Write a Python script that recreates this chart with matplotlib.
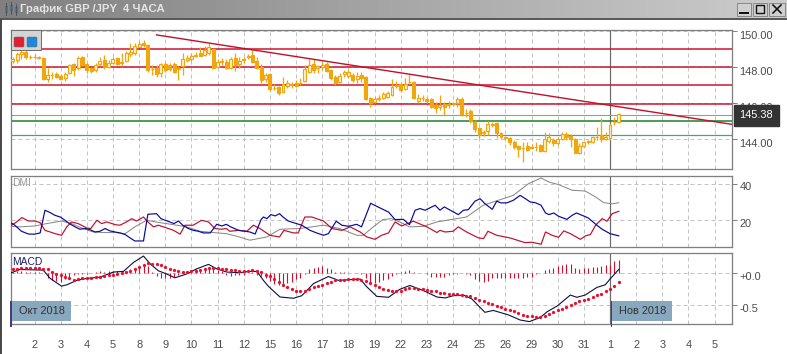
import numpy as np
import matplotlib
matplotlib.use("Agg")
import matplotlib.pyplot as plt
from matplotlib.patches import Rectangle, FancyBboxPatch

plt.rcParams["font.family"] = ["Liberation Sans", "DejaVu Sans"]

W, H = 787, 354

# 4h candles, oct 2018 - 1 nov 2018
opens = [148.35,148.39,148.72,148.85,148.54,148.57,148.57,148.52,147.31,147.54,147.61,147.50,147.39,147.65,148.15,147.93,148.54,148.15,147.93,147.83,
148.17,148.39,148.02,148.24,148.48,148.24,148.33,148.72,148.76,149.13,149.31,149.22,147.89,147.93,147.69,148.17,148.11,148.17,147.93,148.06,
148.39,148.43,148.63,148.80,148.67,148.80,148.98,148.02,148.30,148.30,147.93,148.48,148.17,148.39,148.54,148.67,148.35,148.02,147.31,147.61,
146.85,146.87,146.63,146.94,147.00,147.09,147.09,147.22,147.74,148.15,147.93,148.02,148.17,147.83,147.43,147.15,147.61,147.52,147.56,147.31,
147.56,147.46,146.26,146.07,146.22,146.30,146.35,146.44,146.96,147.04,146.78,147.15,147.19,146.11,146.26,146.22,146.20,145.89,145.80,145.93,
145.91,145.94,145.98,146.22,145.43,145.57,144.96,144.59,144.31,144.46,144.80,144.87,144.35,144.09,144.06,143.81,143.61,143.52,143.61,143.52,
143.54,143.67,143.35,143.91,143.94,143.76,143.98,144.28,144.19,144.00,143.24,143.63,143.85,143.85,144.09,144.22,144.02,144.04,144.93,144.96]
highs = [148.57,148.85,148.98,148.98,148.67,148.70,148.61,148.54,147.93,147.74,147.74,147.61,147.74,148.17,148.20,148.61,148.61,148.20,148.02,148.20,
148.54,148.67,148.39,148.57,148.57,148.76,148.91,149.31,149.31,149.46,149.50,149.26,148.11,148.11,148.24,148.30,148.24,148.30,148.06,148.76,
148.67,148.76,148.85,149.13,149.17,149.31,149.04,148.43,148.48,148.43,148.54,148.76,148.57,148.57,148.72,148.98,148.57,148.17,147.69,147.65,
147.06,146.94,147.43,147.28,147.19,147.28,147.37,148.11,148.43,148.43,148.11,148.30,148.30,147.87,147.56,147.65,147.83,147.83,147.65,147.74,
147.74,147.50,146.31,146.31,146.44,146.63,146.69,147.31,147.22,147.13,147.37,147.56,147.22,146.50,146.44,146.35,146.26,146.07,146.44,146.07,
146.11,146.07,146.31,146.31,145.65,145.65,145.06,144.65,144.50,145.02,144.96,144.96,144.41,144.17,144.13,143.94,143.67,143.81,143.81,143.72,
143.81,143.70,144.41,144.31,144.04,144.09,144.37,144.37,144.26,144.07,143.76,143.85,143.94,144.17,144.69,145.15,144.41,144.87,145.24,145.42]
lows = [148.20,148.24,148.43,148.43,148.43,148.43,148.44,147.28,147.19,147.31,147.37,147.28,147.24,147.61,147.50,147.83,148.06,147.69,147.69,147.74,
148.06,147.87,147.93,148.17,148.11,148.06,148.28,148.57,148.67,149.09,149.13,147.74,147.56,147.46,147.46,147.74,147.80,147.65,147.28,147.56,
148.30,148.35,148.54,148.61,148.61,148.67,147.87,147.93,148.11,147.87,147.87,147.80,147.93,148.20,148.43,148.24,147.87,147.13,147.19,146.69,
146.72,146.44,146.54,146.81,146.85,146.91,147.00,147.15,147.69,147.65,147.69,147.83,147.74,147.28,147.00,147.09,147.46,147.37,147.19,147.09,
147.19,146.17,145.80,145.98,146.13,146.22,146.26,146.39,146.81,146.63,146.72,147.09,146.20,146.02,146.13,146.02,145.70,145.46,145.61,145.33,
145.70,145.83,145.76,145.28,145.20,144.91,144.41,144.04,144.17,144.22,144.69,144.07,144.02,143.98,143.67,143.43,143.02,142.74,143.33,143.43,
143.33,143.30,143.30,143.76,143.61,143.67,143.94,143.94,143.57,143.20,143.17,143.54,143.72,143.76,143.94,143.85,143.94,143.94,144.78,144.91]
closes = [148.43,148.72,148.85,148.54,148.57,148.54,148.48,147.31,147.56,147.57,147.46,147.33,147.61,148.09,147.83,148.48,148.11,147.83,147.80,148.11,
148.33,147.98,148.20,148.44,148.17,148.28,148.76,148.85,149.17,149.28,149.22,147.83,147.87,147.61,148.17,147.83,147.87,147.74,147.87,148.43,
148.52,148.61,148.67,148.63,148.94,149.09,147.93,148.26,148.33,147.93,148.43,148.11,148.33,148.43,148.61,148.30,147.93,147.28,147.56,146.76,
146.81,146.54,147.06,147.09,147.02,146.96,147.13,147.89,148.11,147.83,148.06,148.11,147.80,147.37,147.13,147.50,147.70,147.74,147.28,147.50,
147.37,146.22,146.02,146.22,146.26,146.50,146.57,146.87,147.00,146.72,147.06,147.19,146.26,146.30,146.30,146.13,145.80,145.70,145.89,145.80,
145.94,145.98,146.20,145.37,145.46,145.00,144.56,144.22,144.37,144.81,144.83,144.35,144.09,144.04,143.81,143.57,143.44,143.48,143.39,143.57,
143.57,143.35,143.98,144.09,143.76,143.98,144.26,144.13,143.98,143.24,143.61,143.81,143.89,144.09,144.13,143.98,144.13,144.78,144.96,145.38]

level_red = [149.0, 148.0, 147.0, 145.93]
level_gray = 145.31
level_green = 144.98
level_teal = 144.2
trend_x = [33, 165]
trend_y = [149.78, 144.81]

plus_x = [-1,0.5,2,3.6,5,6.3,7.4,8.6,9.7,10.9,12,13,14.3,15.4,16.6,17.7,18.9,20,21.2,22.3,23.5,24.6,25.8,26.9,28,30,31,33,34,35,37,38,39,40.3,41.4,42.6,43.7,45.3,46.8,48,49,50,51.8,53.3,54.4,55.6,57,57.5,58.3,59.2,60.2,61.2,62,63.2,64.4,66.3,68.2,69.7,71.3,72.4,74.2,75.5,77,78.9,80,82.1,83.5,86.2,87.7,89.6,91,92.3,93.4,94.6,96.9,98,99,102.2,103.4,104.5,106,107.2,108.3,110,111,112,113.3,114.8,116.4,117.6,118.7,119.9,121.2,122.2,123,124.1,125.2,127.1,128.3,129.3,130.6,132,134,135.2,137,139]
plus_di = [19.5,17.3,14,12.5,12.4,13.1,25.5,24.2,22.7,21.8,20,18.2,16.4,15.1,15.5,14.9,13.6,14,15.5,14.2,13.6,13.1,12.2,10.4,8.7,8.7,23.3,23.6,20.9,20,18.2,19.6,17.3,15.5,14.5,14,13.1,13.1,17.8,16.9,17.8,16.4,14.5,14,13.6,12.5,20.5,21.8,20.9,23.1,22.4,23.6,21.8,19.6,18.7,17.3,14.5,13.1,11.8,12.7,19.5,17.3,16.7,17.8,16.4,29.3,27.6,24.5,20.4,20.5,17.6,25.5,26.4,25.5,28.2,25.5,27.3,23.1,25.5,25.8,30.4,31.8,29.1,26,30.4,29.5,29.5,30.9,33.6,31.8,30,29.6,28.2,24,23.1,24,22.2,20.5,22.7,24,22.7,21.3,17.3,15.1,12.7,11.5]
minus_x = [-0.5,0.9,2.1,3.6,5.1,6.3,7.4,8.6,9.7,11.2,12.4,13.5,15,17,17.9,19.3,20.4,21.6,23.5,24.6,26.1,27.3,28.4,30,31,32.3,33.4,35.3,36.9,38.4,39.5,41.4,43.3,44.9,46.4,47.9,49,49.8,51.8,53.7,55.2,56.7,59,61.2,62.2,64.4,65.5,67,68.6,71.3,73.2,75.5,77.4,79.7,81.2,83.1,84.6,86.2,87.7,89.2,91.9,95,97.3,98,99.2,101,102.2,104.1,106.8,108,109,111,114,117.5,119.1,121.2,122.2,123.7,125.2,126.4,127.9,130.2,131.4,132.5,133.7,135.2,136.3,137.5,139]
minus_di = [16.9,19.1,21.5,19.6,19.6,18.7,14.5,13.6,12.7,11.8,16.4,19.1,18.2,15.8,15.5,20,18.2,19.1,17.6,17.3,19.1,20.9,19.6,21.8,19.1,16.4,17.3,15.8,14.5,12.4,17.3,17.3,20,19.1,15.5,15.1,15.5,14,14.5,14,17.3,15.5,11.8,10.9,14.5,13.1,13.1,21.8,21.8,19.6,15.5,14.5,16.4,13.6,10.9,9.6,11.8,13.1,19.1,16.9,19.5,16.4,13.3,14.5,13.6,14,16.4,13.6,10.4,10,14,11.8,10.4,7.8,8,6.9,13.6,11.8,10.7,14.2,12.7,9.6,11.5,12.2,17.3,20.9,19.5,23.6,24.9]
adx_x = [-0.5,1.7,5.1,7.8,11.2,13.5,15.8,18.5,20.8,23.5,25.8,28,30.7,33.8,36.9,39.9,43,46,49,52,54.4,56.3,58.3,61.3,65.9,71.3,75,78.9,80.4,82.7,84.9,86.9,89.6,91,94.2,97.3,101.8,104.1,107.9,114.8,118.3,121.2,123,125.2,128.3,131.3,133.7,135.6,137.5,139]
adx = [16.7,16.4,16.9,18.2,19.6,18.2,15.8,13.6,13.3,13.3,12.7,16.4,20,18.7,17.6,16.4,14,13.3,12.7,10.9,9.1,10,10.9,15.1,15.5,17.3,15.5,11.8,11.8,16.4,20.4,20.9,18.2,16.4,16.7,19.1,20.9,21.8,28.2,33.6,40,43.1,40.9,39.5,36.4,36,32.7,29.6,29,29.6]

macd_x = [-0.5,0.5,1.7,7,8.6,11.2,12.4,14.7,17,20,23.1,25.4,27.7,30,31.5,33.4,35.3,37.2,39.9,42.2,44.9,46.8,49.1,52.1,54.1,56,57.5,58.6,61.3,64.4,66.3,69,72.4,74.7,79.7,81.2,83.5,86.2,88.8,91.1,94.2,97.3,99.2,101,103.4,105.3,108.3,110.2,113.7,116.4,118.5,121,122.6,124.9,127.9,129.4,131.3,134,135.9,137,139]
macd = [.005,.03,.06,.05,-.08,-.20,-.18,-.11,-.08,-.06,.02,.03,.17,.27,.15,.04,-.01,-.07,-.01,.07,.14,.07,.02,.01,.03,.03,-.11,-.20,-.37,-.39,-.35,-.16,-.05,-.11,-.09,-.21,-.36,-.375,-.25,-.19,-.27,-.37,-.385,-.35,-.34,-.40,-.61,-.58,-.65,-.73,-.755,-.69,-.60,-.51,-.34,-.375,-.34,-.22,-.18,-.09,.06]
signal = [.06,.07,.08,.08,.08,.08,.08,.07,.06,.02,-.01,-.03,-.06,-.07,-.10,-.09,-.08,-.08,-.07,-.06,-.05,-.04,-.03,-.02,-.01,.01,.02,.04,.06,.10,
.13,.16,.15,.14,.13,.10,.07,.05,.03,.02,.02,.03,.04,.05,.07,.08,.09,.08,.07,.06,.05,.05,.04,.04,.04,.05,.04,.02,-.02,-.04,
-.09,-.14,-.18,-.22,-.25,-.28,-.28,-.28,-.25,-.22,-.20,-.18,-.15,-.13,-.11,-.11,-.10,-.09,-.09,-.09,-.10,-.12,-.15,-.19,-.22,-.24,-.26,-.28,-.28,-.27,
-.25,-.23,-.23,-.24,-.24,-.26,-.27,-.28,-.30,-.31,-.32,-.33,-.33,-.34,-.35,-.36,-.39,-.41,-.44,-.46,-.48,-.51,-.53,-.55,-.57,-.59,-.62,-.65,-.66,-.67,
-.68,-.68,-.66,-.64,-.61,-.58,-.55,-.52,-.49,-.46,-.44,-.42,-.40,-.37,-.34,-.32,-.28,-.24,-.20,-.13]
hist = [.02,.03,.03,.02,.02,.02,.02,0,-.08,-.11,-.125,-.135,-.09,-.09,-.02,-.01,-.005,-.005,.005,.02,.03,.02,.03,.04,.04,.03,.04,.06,.08,.11,
.15,.11,.02,-.04,-.07,-.07,-.07,-.06,-.02,.02,.03,.05,.06,.07,.07,.08,.07,.05,.04,-.03,-.04,-.03,-.03,-.02,.01,.02,-.02,-.04,-.07,-.125,
-.16,-.19,-.20,-.15,-.135,-.09,-.07,-.005,.06,.08,.10,.11,.09,.07,.02,.015,.015,.01,.005,.005,-.01,-.08,-.135,-.15,-.135,-.11,-.09,-.04,-.005,.015,
.03,.05,.02,.005,0,-.01,-.05,-.06,-.06,-.05,-.03,-.01,-.01,0,-.01,-.03,-.09,-.125,-.135,-.125,-.08,-.07,-.07,-.07,-.08,-.08,-.08,-.07,-.06,-.06,
-.005,.005,.05,.06,.08,.11,.125,.14,.14,.08,.07,.08,.08,.10,.10,.115,.125,.125,.19,.21]

# day labels every 6 candles, starts at candle 5
day_labels = ["2","3","4","5","8","9","10","11","12","15","16","17","18","19","22","23","24","25","26","29","30","31","1","2","3","4","5"]
day_ticks = [5 + 6 * i for i in range(len(day_labels))]
nov_first = 137

ORANGE = "#f2a60e"
RED = "#d0102a"
GRID = "#c4c4c4"
SPINE = "#808080"
TXT = "#4a4a4a"
px = 0.72  # 1 pixel in points at dpi 100

fig = plt.figure(figsize=(W / 100, H / 100), dpi=100, facecolor="white")


def panel(top, bottom, ylim, yticks):
    a = fig.add_axes([10.7 / W, 1 - bottom / H, (732.3 - 10.7) / W, (bottom - top) / H])
    a.set_xlim(-0.46, 165.05)
    a.set_ylim(*ylim)
    a.set_xticks(day_ticks)
    a.set_yticks(yticks)
    a.tick_params(labelleft=False, labelbottom=False, left=False, right=True, bottom=False,
                  color=SPINE, length=5 * px, width=px)
    a.grid(True, color=GRID, ls=(0, (4, 3)), lw=px)
    a.set_axisbelow(True)
    for s in a.spines.values():
        s.set_color(SPINE)
        s.set_linewidth(1.3 * px)
    a.axvline(nov_first, color="#6a6a6a", lw=1.2 * px, zorder=1.5)
    return a


def right_labels(a, ticks, labels, dy=-3.5, dx=7):
    for v, t in zip(ticks, labels):
        a.annotate(t, xy=(1, v), xycoords=a.get_yaxis_transform(), xytext=(dx * px, dy * px),
                   textcoords="offset points", va="center", ha="left", fontsize=7.9, color=TXT,
                   annotation_clip=False)


# --- price panel
ax = panel(29.5, 169, (142.33, 150.08), [144, 146, 148, 150])
idx = np.arange(len(opens))
ax.vlines(idx, lows, highs, color=ORANGE, lw=1.3 * px, zorder=3)
for i in idx:
    up = closes[i] >= opens[i]
    lo, hi = min(opens[i], closes[i]), max(opens[i], closes[i])
    ax.bar(i, max(hi - lo, 0.03), bottom=lo, width=0.68, color="#fdf0d0" if up else ORANGE,
           edgecolor=ORANGE, linewidth=1.1 * px, zorder=4)
for lv in level_red:
    ax.axhline(lv, color=RED, lw=1.5 * px, zorder=2)
ax.axhline(level_gray, color="#9a9a9a", lw=1.1 * px, zorder=2)
ax.axhline(level_green, color="#17801f", lw=1.5 * px, zorder=2)
ax.axhline(level_teal, color="#35a888", lw=1.2 * px, zorder=2)
ax.plot(trend_x, trend_y, color="#c0102c", lw=1.4 * px, zorder=5)
right_labels(ax, [150, 148, 146, 144], ["150.00", "148.00", "146.00", "144.00"], dy=-5.2)
ax.annotate(f"{closes[-1]:.2f}", xy=(1, level_gray), xycoords=ax.get_yaxis_transform(), xytext=(24 * px, 0),
            textcoords="offset points", ha="center", va="center", fontsize=7.9, color="white", zorder=20,
            annotation_clip=False,
            bbox=dict(boxstyle="square,pad=0.5", fc="#333333", ec="#333333"))

# --- DMI panel
ax2 = panel(176, 247, (5.4, 44.2), [20, 40])
ax2.plot(adx_x, adx, color="#858585", lw=1.0 * px, zorder=3)
ax2.plot(minus_x, minus_di, color="#c0102c", lw=1.2 * px, zorder=4)
ax2.plot(plus_x, plus_di, color="#0a0a9c", lw=1.2 * px, zorder=5)
right_labels(ax2, [40, 20], ["40", "20"])
ax2.text(0.002, 0.90, "DMI", transform=ax2.transAxes, color="#9a9a9a", fontsize=7.4, va="center", ha="left")

# --- MACD panel
ax3 = panel(253.3, 324.3, (-0.797, 0.313), [-0.5, 0.0])
ax3.vlines(idx, 0, hist, color=RED, lw=1.1 * px, zorder=3)
ax3.plot(macd_x, macd, color="#0c0c40", lw=1.1 * px, zorder=4)
ax3.scatter(idx, signal, s=5.5, color="#e8102e", linewidths=0, zorder=5)
right_labels(ax3, [0.0, -0.5], ["+0.0", "-0.5"])
ax3.text(0.002, 0.88, "MACD", transform=ax3.transAxes, color="#20206a", fontsize=7.4, va="center", ha="left")
ax3.set_xticks(day_ticks)
ax3.tick_params(axis="x", labelbottom=True, pad=11.5, length=0, labelsize=7.9, labelcolor=TXT)
ax3.set_xticklabels(day_labels)

# --- window chrome, drawn in pixel coordinates
back = fig.add_axes([0, 0, 1, 1], zorder=10)
back.set_xlim(0, W)
back.set_ylim(H, 0)
back.axis("off")
back.patch.set_alpha(0)
grad = np.linspace(0.50, 0.80, 256).reshape(1, -1)
back.imshow(grad, extent=[0, W, 18, 0], cmap="gray", vmin=0, vmax=1, aspect="auto")
back.set_xlim(0, W)
back.set_ylim(H, 0)
back.add_patch(Rectangle((0, 18), W, 1.5, fc="#5a5a5a", ec="none"))
back.add_patch(Rectangle((0, 19), 1.8, H - 19, fc="#4a4a4a", ec="none"))
back.text(20, 9.5, "График GBP /JPY  4 ЧАСА", color="#e4e4e4", fontsize=8.2, fontweight="bold", va="center", ha="left")
for x0, y0, y1, b0, b1 in [(6, 3, 15, 6, 12), (11, 2, 14, 5, 10), (16, 4, 15, 7, 12)]:
    back.plot([x0, x0], [y0, y1], color="#3a4a5a", lw=0.8 * px)
    back.add_patch(Rectangle((x0 - 1, b0), 2, b1 - b0, fc="#9fb0bf", ec="#3a4a5a", lw=0.5 * px))
for bx, bw in [(737, 14), (753, 14), (769, 16)]:
    back.add_patch(Rectangle((bx, 2.5), bw, 13.5, fc="#d0d0d0", ec="#8a8a8a", lw=px))
back.plot([740, 748], [13, 13], color="#111111", lw=2 * px)
back.add_patch(Rectangle((756, 5), 8, 8, fc="none", ec="#111111", lw=1.4 * px))
back.plot([773, 781], [5, 13], color="#111111", lw=1.6 * px)
back.plot([773, 781], [13, 5], color="#111111", lw=1.6 * px)

# indicator buttons
back.add_patch(Rectangle((10.7, 30), 30, 20, fc="#d4d4d4", ec="#707070", lw=px))
for bx, c in [(14, "#e02030"), (27, "#1e88d8")]:
    back.add_patch(FancyBboxPatch((bx + 1, 38), 8, 8, boxstyle="round,pad=1", fc=c, ec="#707070", lw=0.5 * px))

# month flags
for x0, x1, label in [(10.7, 71, "Окт 2018"), (611, 672, "Нов 2018")]:
    back.add_patch(Rectangle((x0, 301), x1 - x0, 20, fc="#88a8c0", ec="none"))
    back.add_patch(Rectangle((x0 - 0.5, 301), 1.6, 26, fc="#4a3a80", ec="none"))
    back.text((x0 + x1) / 2 + 1, 311, label, color="#333333", fontsize=7.9, ha="center", va="center")

fig.savefig("out.png", dpi=100, facecolor="white")
